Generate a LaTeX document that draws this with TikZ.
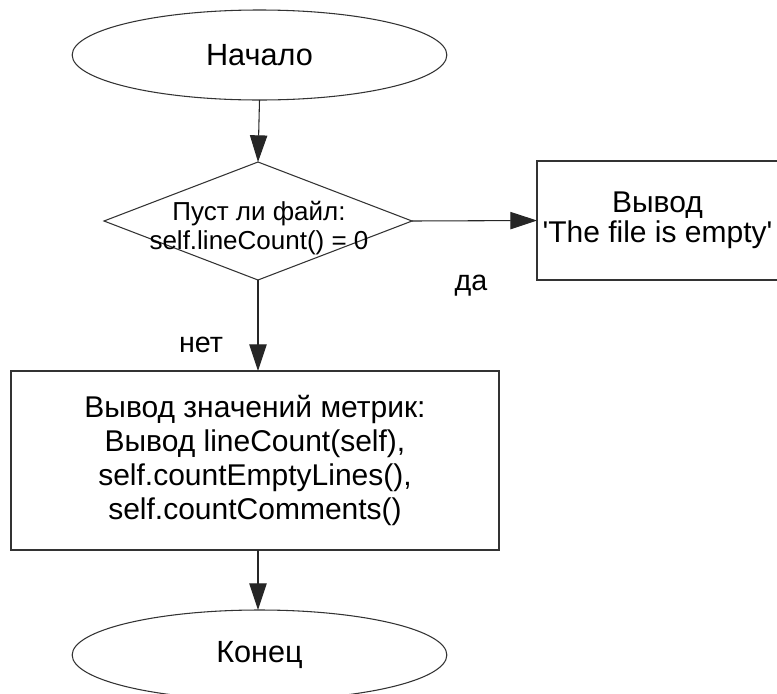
\documentclass[tikz,border=0pt]{standalone}
\usepackage{fontspec}
\setmainfont{Liberation Sans}[Ligatures=TeXOff]
\usetikzlibrary{shapes.geometric,arrows.meta}
\begin{document}
\begin{tikzpicture}[x=0.75pt,y=-0.75pt,
  line width=0.8pt,
  every node/.style={inner sep=0pt, outer sep=0pt},
  terminal/.style={ellipse, draw=black!80, minimum width=281pt, minimum height=67.5pt,
    font=\fontsize{23}{27}\selectfont},
  decision/.style={diamond, draw=black!80, minimum width=231pt, minimum height=88.5pt},
  decisiontext/.style={align=center, font=\fontsize{19.5}{21.75}\selectfont},
  process/.style={rectangle, draw=black!80, align=center},
  edgelabel/.style={font=\fontsize{21.5}{25}\selectfont},
  flow/.style={draw=black!85, -{Triangle[length=20pt,width=13pt]}}
]
\useasboundingbox (0,0) rectangle (777,693);

% blocks
\node[terminal] (start) at (259.5,55) {Начало};
\node[decision] (check) at (258,221) {};
\node[decisiontext] (checktext) at (259,228) {Пуст ли файл:\\self.lineCount() = 0};
\node[process, minimum width=180.75pt, minimum height=89.25pt,
      font=\fontsize{22.5}{22.5}\selectfont] (empty) at (657.5,220.5)
      {Вывод\\'The file is empty'};
\node[process, minimum width=366pt, minimum height=134.25pt,
      font=\fontsize{22.5}{25.5}\selectfont] (metrics) at (255,460.5)
      {Вывод значений метрик:\\Вывод lineCount(self),\\self.countEmptyLines(),\\self.countComments()};
\node[terminal] (stop) at (259.5,655) {Конец};

% connectors
\draw[flow] (start.south) -- (check.north);
\draw[flow] (check.east) -- (empty.west);
\draw[flow] (check.south) -- (check.south |- metrics.north);
\draw[flow] (metrics.south -| check.south) -- (stop.north -| check.south);

% branch labels
\node[edgelabel] (yes) at (471,286) {да};
\node[edgelabel] (no) at (201,345) {нет};
\end{tikzpicture}
\end{document}
